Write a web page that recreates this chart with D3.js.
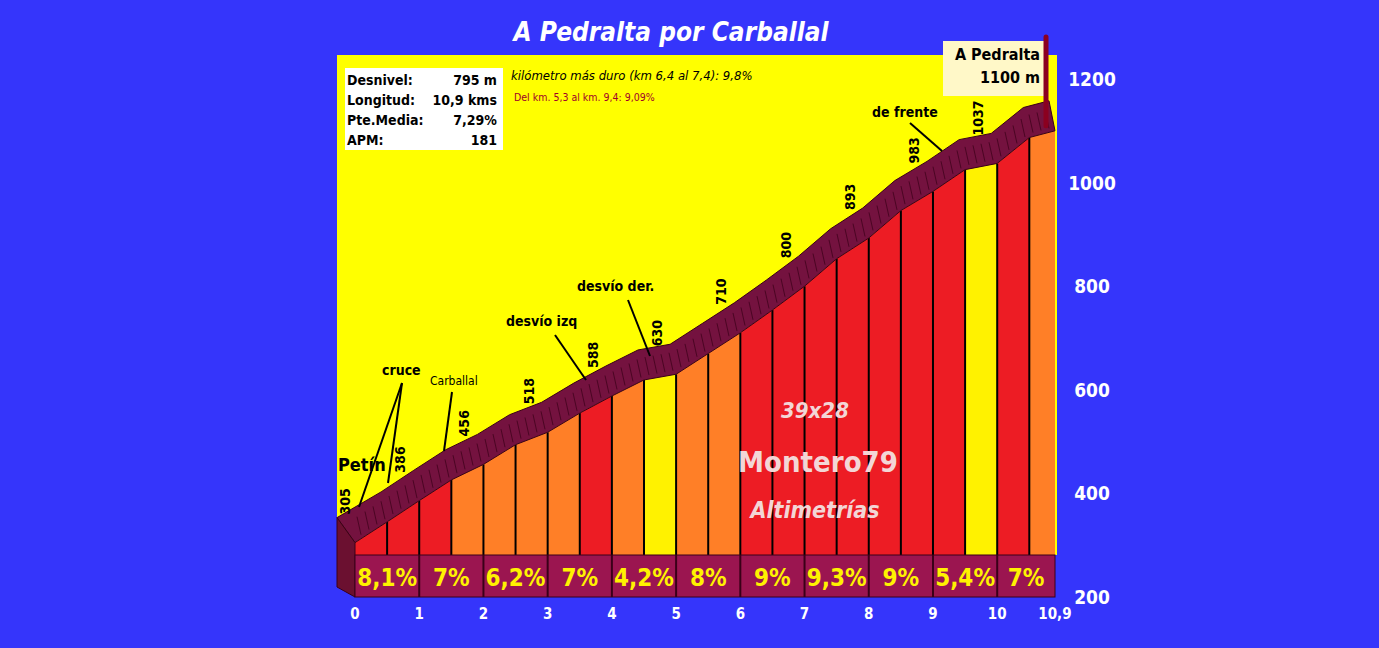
<!DOCTYPE html><html><head><meta charset="utf-8"><script src="https://cdn.jsdelivr.net/npm/d3@7"></script>
<style>body{margin:0;background:#3535fb;}svg{display:block}text{font-family:"DejaVu Sans Condensed","DejaVu Sans",sans-serif}</style></head><body>
<script>
const kmTicks=[0,1,2,3,4,5,6,7,8,9,10,10.9];
const kmTickLabels=["0","1","2","3","4","5","6","7","8","9","10","10,9"];
const profileKm=[0,0.5,1,1.5,2,2.5,3,3.5,4,4.5,5,5.5,6,6.5,7,7.5,8,8.5,9,9.5,10,10.5,10.9];
const profileAlt=[305,345,386,426,456,494,518,555,588,619,630,670,710,754,800,853,893,946,983,1025,1037,1087,1100];
const segColors=["red","red","red","orange","orange","orange","orange","red","orange","yellow","orange","orange","red","red","red","red","red","red","red","yellow","red","orange"];
const kmAlt=[305,386,456,518,588,630,710,800,893,983,1037,1100];
const kmPct=["8,1%","7%","6,2%","7%","4,2%","8%","9%","9,3%","9%","5,4%","7%"];
const yTicks=[200,400,600,800,1000,1200];
const info=[["Desnivel:","795 m"],["Longitud:","10,9 kms"],["Pte.Media:","7,29%"],["APM:","181"]];
const palette={red:"#ed1c24",orange:"#ff7f27",yellow:"#fff200"};

const W=1379,H=648;
const x=d3.scaleLinear().domain([0,10.9]).range([355,1055]);
const y=d3.scaleLinear().domain([200,1200]).range([597,79]);
const svg=d3.select("body").append("svg").attr("width",W).attr("height",H);
svg.append("rect").attr("width",W).attr("height",H).attr("fill","#3535fb");
svg.append("rect").attr("x",337).attr("y",55).attr("width",720).attr("height",500).attr("fill","#ffff00");
const base=555,DX=-6,DY=-30;
const pts=profileKm.map((k,i)=>[x(k),y(profileAlt[i])]);
for(let i=0;i<pts.length-1;i++){
  svg.append("path").attr("d",`M${pts[i][0]},${base}L${pts[i][0]},${pts[i][1]}L${pts[i+1][0]},${pts[i+1][1]}L${pts[i+1][0]},${base}Z`)
   .attr("fill",palette[segColors[i]]);
  if(i>0) svg.append("line").attr("x1",pts[i][0]).attr("x2",pts[i][0]).attr("y1",pts[i][1]).attr("y2",base).attr("stroke","#000").attr("stroke-width",2);
}
const ribTop=pts.map(p=>[p[0]+DX,p[1]+DY]);
const rib=[[337,pts[0][1]-25]].concat(ribTop.slice(1)).concat(pts.slice().reverse());
svg.append("path").attr("d","M"+rib.map(p=>p.join(",")).join("L")+"Z").attr("fill","#74123f").attr("stroke","#3a0018").attr("stroke-width",1);
const line=d3.line();
for(let xx=345;xx<1050;xx+=8){
  let k=x.invert(xx); if(k<0.05||k>10.85) continue;
  let a=d3.bisectRight(profileKm,k)-1; if(a>=profileKm.length-1)a=profileKm.length-2;
  let t=(k-profileKm[a])/(profileKm[a+1]-profileKm[a]);
  let yy=y(profileAlt[a]+t*(profileAlt[a+1]-profileAlt[a]));
  svg.append("path").attr("d",line([[xx,yy-4],[xx-4,yy-22]])).attr("stroke","#3a0018").attr("stroke-width",1).attr("opacity",0.7);
}
svg.append("path").attr("d",`M337,${pts[0][1]-25}L${x(0)},${pts[0][1]}L${x(0)},597L337,587Z`).attr("fill","#6b1030").attr("stroke","#3a0018");
svg.append("rect").attr("x",x(0)).attr("y",base).attr("width",x(10.9)-x(0)).attr("height",42).attr("fill","#9b1550").attr("stroke","#3a0018");
kmTicks.forEach((k,i)=>{
  if(i>0&&i<kmTicks.length-1) svg.append("line").attr("x1",x(k)).attr("x2",x(k)).attr("y1",base).attr("y2",597).attr("stroke","#3a0018").attr("stroke-width",2);
  if(i<kmPct.length) svg.append("text").attr("x",(x(k)+x(kmTicks[i+1]))/2).attr("y",586).attr("text-anchor","middle").attr("fill","#fff200").attr("font-size",24).attr("font-weight","bold").attr("font-family","'Liberation Sans Narrow','DejaVu Sans Condensed',sans-serif").text(kmPct[i]);
  svg.append("text").attr("x",x(k)).attr("y",619).attr("text-anchor","middle").attr("fill","#fff").attr("font-size",15).attr("font-weight","bold").text(kmTickLabels[i]);
});
yTicks.forEach(v=>svg.append("text").attr("x",1092).attr("y",y(v)+7).attr("text-anchor","middle").attr("fill","#fff").attr("font-size",19).attr("font-weight","bold").text(v));
kmAlt.slice(0,11).forEach((a,i)=>{
  const px=i==0?x(0)-5:x(kmTicks[i])-14, py=y(a)-28;
  svg.append("text").attr("transform",`translate(${px},${py}) rotate(-90)`).attr("font-size",14).attr("font-weight","bold").attr("fill","#000").text(a);
});
svg.append("text").attr("x",671).attr("y",41).attr("text-anchor","middle").attr("fill","#fff").attr("font-size",26).attr("font-weight","bold").attr("font-style","italic").text("A Pedralta por Carballal");
svg.append("rect").attr("x",345).attr("y",68).attr("width",158).attr("height",82).attr("fill","#fff");
info.forEach((r,i)=>{
  svg.append("text").attr("x",347).attr("y",85+i*20).attr("font-size",14).attr("font-weight","bold").text(r[0]);
  svg.append("text").attr("x",497).attr("y",85+i*20).attr("text-anchor","end").attr("font-size",14).attr("font-weight","bold").text(r[1]);
});
svg.append("text").attr("x",511).attr("y",80).attr("font-size",13).attr("font-style","italic").text("kilómetro más duro (km 6,4 al 7,4):  9,8%");
svg.append("text").attr("x",514).attr("y",101).attr("font-size",10.5).attr("fill","#a0002a").text("Del km. 5,3 al  km. 9,4:  9,09%");
svg.append("rect").attr("x",943).attr("y",41).attr("width",101).attr("height",55).attr("fill","#fff8c8");
svg.append("text").attr("x",1040).attr("y",60).attr("text-anchor","end").attr("font-size",16).attr("font-weight","bold").text("A Pedralta");
svg.append("text").attr("x",1040).attr("y",83).attr("text-anchor","end").attr("font-size",16).attr("font-weight","bold").text("1100 m");
svg.append("line").attr("x1",1046).attr("x2",1046).attr("y1",37).attr("y2",y(1100)-5).attr("stroke","#8b0020").attr("stroke-width",5).attr("stroke-linecap","round");
const ann=[["Petín",338,471,18,[]],["cruce",382,375,14,[[402,383,359,507],[402,383,388,483]]],["Carballal",430,385,12,[[452,392,444,451]]],["desvío izq",506,326,14,[[555,335,586,380]]],["desvío der.",577,291,14,[[628,300,650,356]]],["de frente",872,117,14,[[910,123,942,151]]]];
ann.forEach(a=>{
  svg.append("text").attr("x",a[1]).attr("y",a[2]).attr("font-size",a[3]).attr("font-weight",a[3]>=14?"bold":"normal").text(a[0]);
  a[4].forEach(l=>svg.append("line").attr("x1",l[0]).attr("y1",l[1]).attr("x2",l[2]).attr("y2",l[3]).attr("stroke","#000").attr("stroke-width",2));
});
const wm="#f3d6d6";
svg.append("text").attr("x",815).attr("y",418).attr("text-anchor","middle").attr("fill",wm).attr("font-size",22).attr("font-weight","bold").attr("font-style","italic").text("39x28");
svg.append("text").attr("x",818).attr("y",472).attr("text-anchor","middle").attr("fill",wm).attr("font-size",29).attr("font-weight","bold").text("Montero79");
svg.append("text").attr("x",815).attr("y",518).attr("text-anchor","middle").attr("fill",wm).attr("font-size",23).attr("font-weight","bold").attr("font-style","italic").text("Altimetrías");
</script></body></html>
